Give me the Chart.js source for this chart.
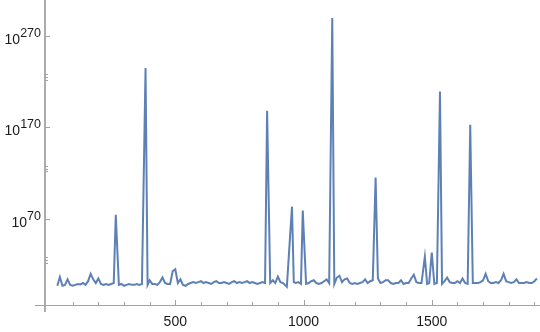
<!DOCTYPE html>
<html><head><meta charset="utf-8">
<script src="https://cdn.jsdelivr.net/npm/chart.js@4.4.1/dist/chart.umd.min.js"></script>
<style>html,body{margin:0;padding:0;background:#fff;}#wrap{width:540px;height:332px;}</style>
</head><body><div id="wrap"><canvas id="c" width="540" height="332"></canvas></div>
<script>
// ---- data ----
const xValues = [40,50,60,70,80,90,100,110,120,130,140,150,160,170,180,190,200,210,220,230,240,250,260,268,280,290,300,310,320,330,340,350,360,370,384,392,400,410,420,430,440,450,460,470,480,490,500,510,520,530,540,550,560,570,580,590,600,610,620,630,640,650,660,670,680,690,700,710,720,730,740,750,760,770,780,790,800,810,820,830,840,850,858,870,880,890,900,910,920,935,955,962,970,980,990,997,1010,1020,1030,1040,1050,1060,1070,1080,1090,1100,1112,1120,1130,1140,1150,1160,1170,1180,1190,1200,1210,1220,1230,1240,1250,1260,1270,1281,1290,1300,1310,1320,1330,1340,1350,1360,1370,1380,1390,1400,1410,1420,1430,1440,1450,1460,1473,1482,1490,1500,1510,1520,1532,1540,1550,1560,1570,1580,1590,1600,1610,1620,1630,1640,1650,1660,1670,1680,1690,1700,1710,1720,1730,1740,1750,1760,1770,1780,1790,1800,1810,1820,1830,1840,1850,1860,1870,1880,1890,1900,1910];
const yValues = [1e-3,4e6,1e-3,1e-2,1e4,1e-2,1e-3,1e-2,1e-1,3e-2,1,1e-2,1e2,1e10,1e4,1,1e5,1e-1,1e-2,1e-1,1e-2,1e-1,1,2.5e74,1e-2,1e-1,1e-3,1e-2,1e-1,1e-2,1e-2,1e-1,1e-2,1e-1,5e234,1e-2,1e3,1e-1,1e-1,1e-2,1e1,1e6,1,1e-1,1e-1,1e13,1e15,1,1e4,1e-2,1e-3,1e-1,1,1e1,1,1e1,1e2,1,1e1,1,1e-1,1e1,1e2,1,1,1e1,1,1e-1,1e1,1e2,1,1e1,1,1e1,1e2,1,1e1,1,1e-1,1,1e1,1,1e188,1,1e3,1,1e7,1e1,1,1e-4,2.5e83,1e1,1,1e1,1e-1,1.3e79,1e-1,1,1e2,1e3,1,1e-1,1,1e2,1e4,1,2e289,1e-1,1e6,1e8,1e1,1e4,1e5,1,1e-1,1,1e-1,1,1e1,1e4,1,1e2,1e3,1.3e115,1e5,1,1e1,1e3,1e3,1,1e-1,1,1,1e3,1e-1,1,1,1e5,1e9,1e1,1,1,6e28,1e-1,1,1.6e33,1e-1,1,1.3e209,1e-1,1e2,1e6,1e1,1,1,1e2,1,1e5,1,1e-1,5e172,1,1,1,1e1,1e3,1e10,1e2,1,1,1e1,1,1e3,1e10,1e2,1e1,1,1e1,1e4,1,1,1,1e1,1,1,1e2,1e5];
const xTickValues = [500,1000,1500];
const xTickLabels = ['500','1000','1500'];
const xMinorTickValues = [100,200,300,400,600,700,800,900,1100,1200,1300,1400,1600,1700,1800,1900];
const yTickValues = [1e70,1e170,1e270];
const yTickBases = ['10','10','10'];
const yTickExponents = ['70','170','270'];
const yMinorTickValues = [1e22,1e25,1e28,1e122,1e125,1e128,1e222,1e225,1e228];

// ---- styles ----
const lineColor = 'rgb(94,129,181)';
const axisColor = '#a3a3a3';
const textColor = '#1a1a1a';
const fontFamily = '"Liberation Sans", Arial, sans-serif';

const points = xValues.map((x, i) => ({x, y: yValues[i]}));

const axesPlugin = {
  id: 'mmaAxes',
  beforeDatasetsDraw(chart) {
    const {ctx, chartArea, scales} = chart;
    const xs = scales.x, ys = scales.y;
    const left = chartArea.left, bottom = chartArea.bottom;
    ctx.save();
    ctx.strokeStyle = axisColor;
    // x axis
    ctx.lineWidth = 1.2;
    ctx.beginPath(); ctx.moveTo(left - 10, bottom + 0.5); ctx.lineTo(chartArea.right, bottom + 0.5); ctx.stroke();
    // y axis
    ctx.lineWidth = 1.8;
    ctx.beginPath(); ctx.moveTo(left, 0); ctx.lineTo(left, bottom + 7); ctx.stroke();
    // x ticks
    ctx.lineWidth = 1;
    xTickValues.forEach(v => { const px = Math.round(xs.getPixelForValue(v)) + 0.5; ctx.beginPath(); ctx.moveTo(px, bottom); ctx.lineTo(px, bottom - 5); ctx.stroke(); });
    xMinorTickValues.forEach(v => { const px = Math.round(xs.getPixelForValue(v)) + 0.5; ctx.beginPath(); ctx.moveTo(px, bottom); ctx.lineTo(px, bottom - 3); ctx.stroke(); });
    // y ticks
    yTickValues.forEach(v => { const py = Math.round(ys.getPixelForValue(v)) + 0.5; ctx.beginPath(); ctx.moveTo(left, py); ctx.lineTo(left + 5, py); ctx.stroke(); });
    yMinorTickValues.forEach(v => { const py = Math.round(ys.getPixelForValue(v)) + 0.5; ctx.beginPath(); ctx.moveTo(left, py); ctx.lineTo(left + 3, py); ctx.stroke(); });
    // x labels
    ctx.fillStyle = textColor;
    ctx.font = '14px ' + fontFamily;
    ctx.textAlign = 'center';
    ctx.textBaseline = 'alphabetic';
    xTickValues.forEach((v, i) => { ctx.fillText(xTickLabels[i], xs.getPixelForValue(v), bottom + 20.5); });
    // y labels (10^n)
    const rightEdge = left - 4;
    yTickValues.forEach((v, i) => {
      const py = ys.getPixelForValue(v);
      ctx.textAlign = 'right';
      ctx.font = '12.5px ' + fontFamily;
      const ew = ctx.measureText(yTickExponents[i]).width;
      ctx.fillText(yTickExponents[i], rightEdge, py + 1);
      ctx.font = '14px ' + fontFamily;
      ctx.fillText(yTickBases[i], rightEdge - ew, py + 8);
    });
    ctx.restore();
  }
};

new Chart(document.getElementById('c'), {
  type: 'line',
  data: { datasets: [{ data: points, borderColor: lineColor, borderWidth: 2, pointRadius: 0, tension: 0, fill: false }] },
  options: {
    responsive: false,
    animation: false,
    devicePixelRatio: 1,
    layout: { padding: { left: 45, right: 0, top: 1, bottom: 27 } },
    plugins: { legend: { display: false }, tooltip: { enabled: false } },
    scales: {
      x: { type: 'linear', min: -8, max: 1922, display: false,
           afterBuildTicks: s => { s.ticks = xTickValues.map(v => ({value: v})); } },
      y: { type: 'logarithmic', min: 1e-24, max: 1e308, display: false,
           afterBuildTicks: s => { s.ticks = yTickValues.map(v => ({value: v})); } }
    }
  },
  plugins: [axesPlugin]
});
</script></body></html>
